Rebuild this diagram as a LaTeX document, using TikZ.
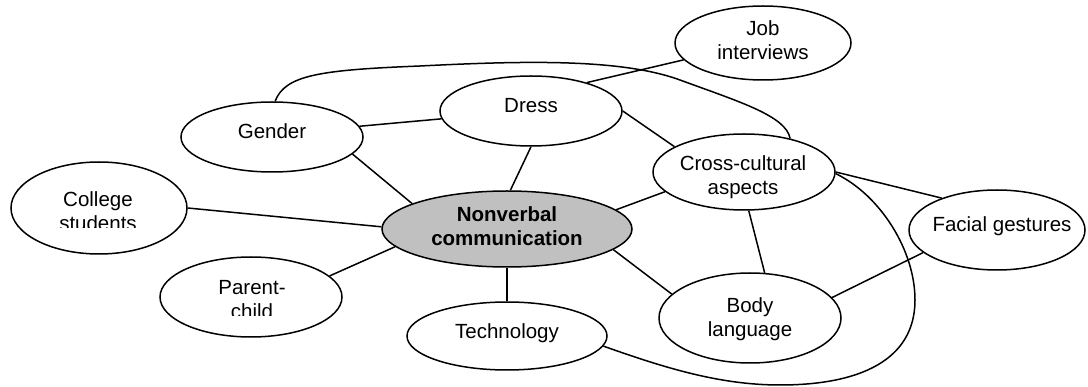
\documentclass[tikz,border=0pt]{standalone}
\usepackage{fontspec}
\setmainfont{Liberation Sans}
\usetikzlibrary{shapes.geometric}
\definecolor{nvgray}{RGB}{192,192,192}
\begin{document}
\begin{tikzpicture}[x=1pt,y=-1pt,
  bub/.style={ellipse, draw, line width=1.5pt, inner sep=0pt, fill=white},
  conn/.style={line width=1.5pt},
  lbl/.style={inner sep=0pt, align=center, font=\fontsize{20.5}{23.5}\selectfont}]
\useasboundingbox (0,0) rectangle (1088,387);

% ellipses
\node[bub, minimum width=176pt, minimum height=74pt] (job) at (763,43) {};
\node[bub, minimum width=182pt, minimum height=70pt] (gender) at (272,137) {};
\node[bub, minimum width=182pt, minimum height=70pt] (dress) at (531,111) {};
\node[bub, minimum width=182pt, minimum height=76pt] (cross) at (744,172) {};
\node[bub, minimum width=176pt, minimum height=92pt] (college) at (99,208) {};
\node[bub, minimum width=250pt, minimum height=76pt, fill=nvgray] (nonverbal) at (507,229) {};
\node[bub, minimum width=176pt, minimum height=80pt] (facial) at (997,230) {};
\node[bub, minimum width=182pt, minimum height=80pt] (parent) at (251,297) {};
\node[bub, minimum width=200pt, minimum height=68pt] (tech) at (507,336) {};
\node[bub, minimum width=182pt, minimum height=90pt] (body) at (750,318) {};

% labels
\node[lbl] (jobt) at (763,43) {\strut Job\\interviews\strut};
\node[lbl] (gendert) at (272,134.3) {\strut Gender};
\node[lbl] (dresst) at (531,108.3) {\strut Dress};
\node[lbl] (crosst) at (743,178) {\strut Cross-cultural\\aspects\strut};
\begin{scope}
  \clip (0,150) rectangle (200,228);
  \node[lbl] (colleget) at (98,214) {\strut College\\students\strut};
\end{scope}
\node[lbl, font=\fontsize{20.5}{23.5}\selectfont\bfseries] (nonverbalt) at (507,229) {\strut Nonverbal\\communication\strut};
\node[lbl] (facialt) at (1002,227.3) {\strut Facial gestures};
\begin{scope}
  \clip (150,250) rectangle (350,316);
  \node[lbl] (parentt) at (252,302) {\strut Parent-\\child\strut};
\end{scope}
\node[lbl] (techt) at (507,334.3) {\strut Technology};
\node[lbl] (bodyt) at (750,320) {\strut Body\\language\strut};

% straight connectors
\draw[conn] (gender.7) -- (dress.-175);
\draw[conn] (gender.-12) -- (nonverbal.165);
\draw[conn] (dress.-90) -- (nonverbal.85);
\draw[conn] (dress.27) -- (job.-168);
\draw[conn] (dress.0) -- (cross.160);
\draw[conn] (cross.-166) -- (nonverbal.10);
\draw[conn] (cross.-83) -- (body.72);
\draw[conn] (cross.0) -- (facial.150);
\draw[conn] (college.0) -- (nonverbal.179);
\draw[conn] (parent.15) -- (nonverbal.-171);
\draw[conn] (nonverbal.-90) -- (tech.90);
\draw[conn] (nonverbal.-11) -- (body.163);
\draw[conn] (body.14) -- (facial.-163);

% curved connectors
\draw[conn] (gender.85) .. controls (285,75) and (320,70) .. (420,66)
  .. controls (520,61) and (620,58) .. (680,80)
  .. controls (740,102) and (786,116) .. (cross.36);
\draw[conn] (cross.-1) .. controls (880,195) and (915,250) .. (915,300)
  .. controls (915,360) and (860,385) .. (780,385)
  .. controls (720,385) and (665,368) .. (tech.-6);
\end{tikzpicture}
\end{document}
